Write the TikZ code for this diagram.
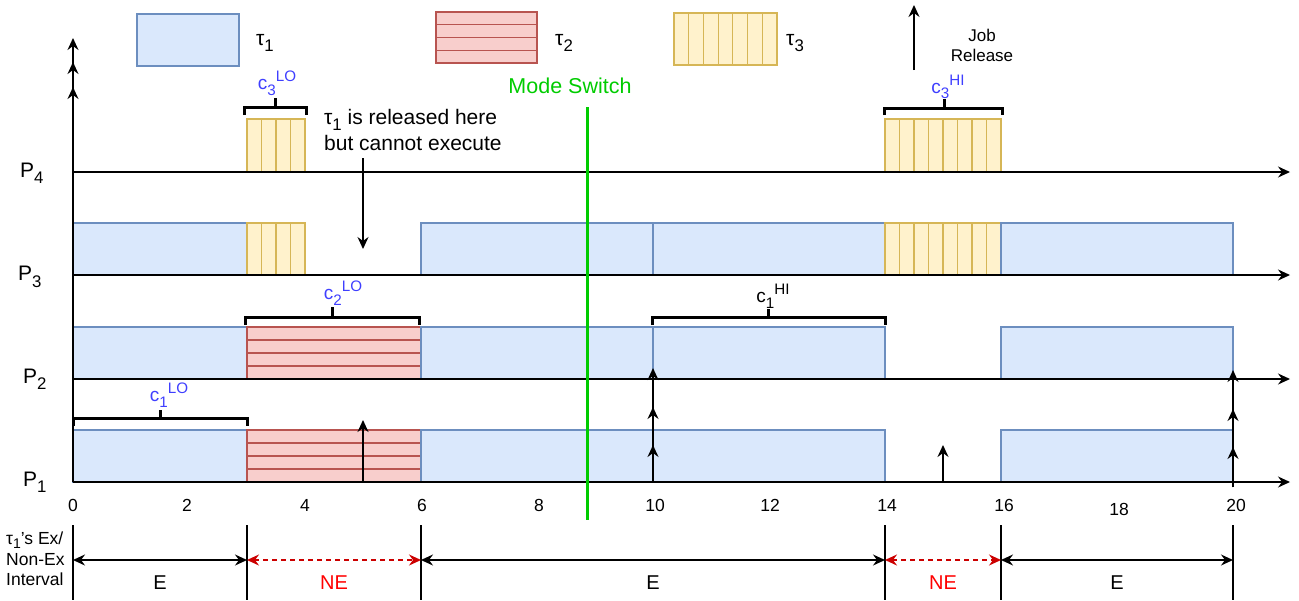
\documentclass[tikz,border=0pt]{standalone}
\usepackage{fontspec}
\usepackage{graphicx}
\setmainfont{Liberation Sans}
\usetikzlibrary{arrows.meta,calc}
\definecolor{bfill}{HTML}{DAE8FC}\definecolor{bline}{HTML}{6C8EBF}
\definecolor{rfill}{HTML}{F8CECC}\definecolor{rline}{HTML}{B85450}
\definecolor{yfill}{HTML}{FFF2CC}\definecolor{yline}{HTML}{D6B656}
\definecolor{mgreen}{HTML}{00CC00}
\definecolor{cblue}{HTML}{3F3FFF}
\definecolor{nered}{HTML}{CC0000}
\definecolor{ntext}{HTML}{FF0000}
\newcommand\dsub[1]{\raisebox{-0.3em}{\scalebox{0.8}{#1}}}
\newcommand\dsup[1]{\raisebox{0.42em}{\scalebox{0.8}{#1}}}
\tikzset{
  job/.style={draw, line width=1.2pt, inner sep=0pt, outer sep=0pt, anchor=south west},
  bjob/.style={job, draw=bline, fill=bfill},
  rjob/.style={job, draw=rline, fill=rfill,
    path picture={\foreach \f in {0.25,0.5,0.75}
      \draw[rline, line width=1.2pt] ($(path picture bounding box.south west)!\f!(path picture bounding box.north west)$) -- ($(path picture bounding box.south east)!\f!(path picture bounding box.north east)$);}},
  yjob/.style={job, draw=yline, fill=yfill,
    path picture={\foreach \f in {#1}
      \draw[yline, line width=1.2pt] ($(path picture bounding box.south west)!\f!(path picture bounding box.south east)$) -- ($(path picture bounding box.north west)!\f!(path picture bounding box.north east)$);}},
  tip/.style={-{Stealth[length=12pt,width=11pt,inset=4pt]}},
  axisline/.style={tip, line width=1.6pt, black},
  relarrow/.style={tip, line width=1.5pt, black},
  brk/.style={line width=3pt, line cap=butt, line join=miter},
  lbl/.style={inner sep=0pt, font=\fontsize{20}{24}\selectfont},
  plbl/.style={inner sep=0pt, font=\fontsize{21}{24}\selectfont},
  ticklbl/.style={inner sep=0pt, font=\fontsize{17.5}{20}\selectfont},
  clbl/.style={inner sep=0pt, text=cblue, font=\fontsize{19}{22}\selectfont},
  sepline/.style={line width=1.4pt},
  eint/.style={{Stealth[length=12pt,width=11pt,inset=4pt]}-{Stealth[length=12pt,width=11pt,inset=4pt]}, line width=1.5pt, black},
  neint/.style={{Stealth[length=12pt,width=11pt,inset=4pt]}-{Stealth[length=12pt,width=11pt,inset=4pt]}, line width=1.5pt, nered, dashed, dash pattern=on 5pt off 4pt},
}
\begin{document}
\begin{tikzpicture}[x=1pt,y=-1pt]
\useasboundingbox (0,0) rectangle (1299,600);

% ---------- legend ----------
\node[bjob, minimum width=102pt, minimum height=52pt] (lg1) at (137,66) {};
\node[plbl, anchor=west] (lg1t) at (256,43) {τ\dsub{1}};
\node[rjob, minimum width=101pt, minimum height=51pt] (lg2) at (436,63) {};
\node[plbl, anchor=west] (lg2t) at (555,43) {τ\dsub{2}};
\node[yjob={0.142857,0.285714,0.428571,0.571429,0.714286,0.857143}, minimum width=103pt, minimum height=52pt] (lg3) at (674,65) {};
\node[plbl, anchor=west] (lg3t) at (786,43) {τ\dsub{3}};
\coordinate (jrb) at (914,70);
\coordinate (jrt) at (914,5);
\draw[relarrow] (jrb) -- (jrt);
\node[inner sep=0pt, align=center, font=\fontsize{17}{20}\selectfont] (jrtext) at (982,45) {Job\\Release};

% ---------- job boxes ----------
% P4
\node[yjob={0.25,0.5,0.75}, minimum width=58pt, minimum height=53pt] (p4a) at (247,172) {};
\node[yjob={0.125,0.25,0.375,0.5,0.625,0.75,0.875}, minimum width=116pt, minimum height=53pt] (p4b) at (885,172) {};
% P3
\node[bjob, minimum width=174pt, minimum height=52pt] (p3a) at (73,275) {};
\node[yjob={0.25,0.5,0.75}, minimum width=58pt, minimum height=52pt] (p3b) at (247,275) {};
\node[bjob, minimum width=232pt, minimum height=52pt] (p3c) at (421,275) {};
\node[bjob, minimum width=232pt, minimum height=52pt] (p3d) at (653,275) {};
\node[yjob={0.125,0.25,0.375,0.5,0.625,0.75,0.875}, minimum width=116pt, minimum height=52pt] (p3e) at (885,275) {};
\node[bjob, minimum width=232pt, minimum height=52pt] (p3f) at (1001,275) {};
% P2
\node[bjob, minimum width=174pt, minimum height=52pt] (p2a) at (73,379) {};
\node[rjob, minimum width=174pt, minimum height=52pt] (p2b) at (247,379) {};
\node[bjob, minimum width=232pt, minimum height=52pt] (p2c) at (421,379) {};
\node[bjob, minimum width=232pt, minimum height=52pt] (p2d) at (653,379) {};
\node[bjob, minimum width=232pt, minimum height=52pt] (p2e) at (1001,379) {};
% P1
\node[bjob, minimum width=174pt, minimum height=52pt] (p1a) at (73,482) {};
\node[rjob, minimum width=174pt, minimum height=52pt] (p1b) at (247,482) {};
\node[bjob, minimum width=464pt, minimum height=52pt] (p1c) at (421,482) {};
\node[bjob, minimum width=232pt, minimum height=52pt] (p1d) at (1001,482) {};

% ---------- axes ----------
\coordinate (o) at (73,482);
\coordinate (va1) at (73,87);
\coordinate (va2) at (73,62);
\coordinate (va3) at (73,38);
\draw[axisline] (o) -- (va1);
\draw[axisline] (o) -- (va2);
\draw[axisline] (o) -- (va3);
\foreach \n/\y in {4/172,3/275,2/379,1/482}{
  \coordinate (h\n s) at (73,\y);
  \coordinate (h\n e) at (1290,\y);
  \draw[axisline] (h\n s) -- (h\n e);
}
\node[plbl, anchor=west] (P4) at (20,173) {P\dsub{4}};
\node[plbl, anchor=west] (P3) at (18,277) {P\dsub{3}};
\node[plbl, anchor=west] (P2) at (23,379) {P\dsub{2}};
\node[plbl, anchor=west] (P1) at (23,482) {P\dsub{1}};

\foreach \v/\x in {0/73,2/187,4/305,6/422,8/539,10/655,12/770,14/887,16/1004,20/1236}{
  \node[ticklbl] (t\v) at (\x,505) {\v};
}
\node[ticklbl] (t18) at (1119,509) {18};

% ---------- brackets ----------
\draw[brk] (244,115) -- (244,107) -- (306,107) -- (306,115);
\draw[brk] (275,107) -- (275,98);
\node[clbl] (c3lo) at (277,83) {c\dsub{3}\dsup{LO}};

\draw[brk] (884,115) -- (884,108) -- (1002,108) -- (1002,115);
\draw[brk] (944,108) -- (944,99);
\node[clbl] (c3hi) at (948,87) {c\dsub{3}\dsup{HI}};

\draw[brk] (245,325) -- (245,317) -- (419,317) -- (419,325);
\draw[brk] (332,317) -- (332,307);
\node[clbl] (c2lo) at (343,293) {c\dsub{2}\dsup{LO}};

\draw[brk] (73,426) -- (73,418) -- (247,418) -- (247,426);
\draw[brk] (160,418) -- (160,410);
\node[clbl] (c1lo) at (169,395) {c\dsub{1}\dsup{LO}};

\draw[brk] (652,325) -- (652,317) -- (885,317) -- (885,325);
\draw[brk] (768,317) -- (768,309);
\node[clbl, text=black] (c1hi) at (773,296) {c\dsub{1}\dsup{HI}};

% ---------- annotation ----------
\node[inner sep=0pt, anchor=west, align=left, font=\fontsize{21}{26}\selectfont] (note) at (324,130) {τ\dsub{1} is released here\\but cannot execute};
\coordinate (nf) at (363,158);
\coordinate (nt) at (363,249);
\draw[relarrow] (nf) -- (nt);

% ---------- job releases ----------
\coordinate (r5b) at (363,482); \coordinate (r5t) at (363,420);
\draw[relarrow] (r5b) -- (r5t);
\coordinate (r10b) at (653,482);
\coordinate (r10a) at (653,445); \coordinate (r10c) at (653,407); \coordinate (r10d) at (653,368);
\draw[relarrow] (r10b) -- (r10a);
\draw[relarrow] (r10b) -- (r10c);
\draw[relarrow] (r10b) -- (r10d);
\coordinate (r15b) at (943,482); \coordinate (r15t) at (943,445);
\draw[relarrow] (r15b) -- (r15t);
\coordinate (r20b) at (1233,487);
\coordinate (r20a) at (1233,447); \coordinate (r20c) at (1233,409); \coordinate (r20d) at (1233,370);
\draw[relarrow] (r20b) -- (r20a);
\draw[relarrow] (r20b) -- (r20c);
\draw[relarrow] (r20b) -- (r20d);

% ---------- mode switch ----------
\node[inner sep=0pt, text=mgreen, font=\fontsize{21.5}{24}\selectfont] (ms) at (570,86) {Mode Switch};
\coordinate (msa) at (587,107);
\coordinate (msb) at (587,520);
\draw[mgreen, line width=3pt] (msa) -- (msb);

% ---------- execution intervals ----------
\foreach \n/\x in {a/73,b/247,c/421,d/885,e/1001,f/1233}{
  \coordinate (s\n t) at (\x,525);
  \coordinate (s\n b) at (\x,600);
  \coordinate (s\n m) at (\x,560);
  \draw[sepline] (s\n t) -- (s\n b);
}
\draw[eint] (sam) -- (sbm);
\draw[neint] (sbm) -- (scm);
\draw[eint] (scm) -- (sdm);
\draw[neint] (sdm) -- (sem);
\draw[eint] (sem) -- (sfm);
\node[lbl] (e1) at (160,583) {E};
\node[lbl, text=ntext] (ne1) at (334,583) {NE};
\node[lbl] (e2) at (653,583) {E};
\node[lbl, text=ntext] (ne2) at (943,583) {NE};
\node[lbl] (e3) at (1117,583) {E};
\node[inner sep=0pt, anchor=west, align=left, font=\fontsize{17.5}{20.5}\selectfont] (intl) at (6,559) {τ\raisebox{-0.22em}{\scalebox{0.8}{1}}'s Ex/\\Non-Ex\\Interval};
\end{tikzpicture}
\end{document}
